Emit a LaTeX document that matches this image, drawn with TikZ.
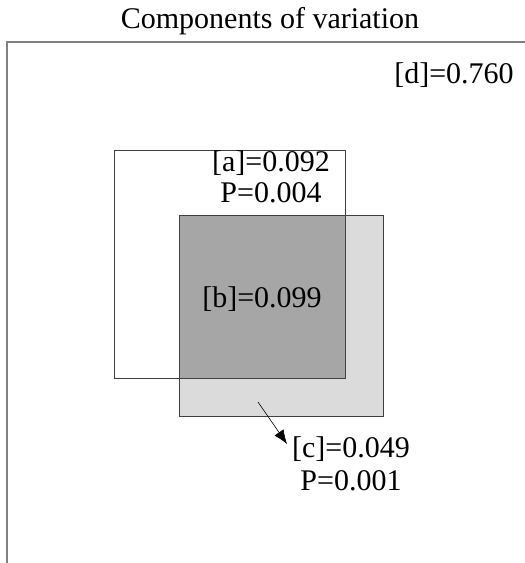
\documentclass[tikz,border=0pt]{standalone}
\usepackage{fontspec}
\setmainfont{Liberation Serif}
\usetikzlibrary{arrows.meta}
\begin{document}
\begin{tikzpicture}[x=1pt,y=-1pt]
	\tikzstyle{lab}=[inner sep=0pt,font=\fontsize{30}{32}\selectfont]
	\tikzstyle{box}=[draw=black!75, line width=0.8pt]

	\useasboundingbox (0,0) rectangle (525,563);
	\clip (0,0) rectangle (525,563);

	\node [lab] (title) at (270,21) {Components of variation};
	\draw [draw=black!50, line width=1.2pt] (7,42) rectangle (540,580);

	\filldraw [box, fill=black!14] (179,215) rectangle (383,416);
	\filldraw [box, fill=black!35] (179,215) rectangle (345,378);
	\draw [box] (114,150) rectangle (345,378);

	\node [lab] (d) at (454,75) {[d]=0.760};
	\node [lab] (a) at (271,163) {[a]=0.092};
	\node [lab] (pa) at (271,193) {P=0.004};
	\node [lab] (b) at (262,299) {[b]=0.099};
	\node [lab] (c) at (351,449) {[c]=0.049};
	\node [lab] (pc) at (351,481) {P=0.001};

	\coordinate (ctail) at (258,402);
	\coordinate (ctip) at (287,444);
	\draw [-{Latex[length=14pt,width=11pt]}, line width=0.6pt] (ctail) -- (ctip);
\end{tikzpicture}
\end{document}
